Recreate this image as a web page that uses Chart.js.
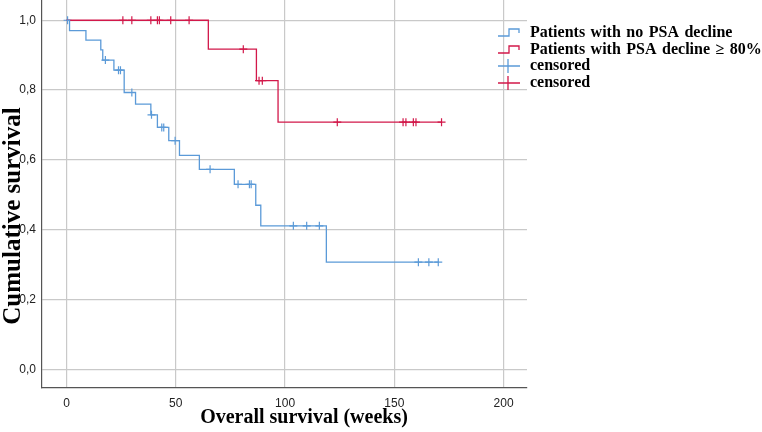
<!DOCTYPE html>
<html>
<head>
<meta charset="utf-8">
<script src="https://cdn.jsdelivr.net/npm/chart.js@4"></script>
<style>
html,body{margin:0;padding:0;background:#fff;}
#wrap{width:762px;height:432px;position:relative;}
</style>
</head>
<body>
<div id="wrap"><canvas id="c" width="762" height="432"></canvas></div>
<script>
// ---- data ----
const xTicks = [0, 50, 100, 150, 200];
const yTicks = [0.0, 0.2, 0.4, 0.6, 0.8, 1.0];

const noDeclineTimes = [0, 1.4, 8.9, 15.7, 16.6, 21.7, 26.4, 31.6, 38.6, 41.6, 46.8, 51.7, 60.8, 76.8, 86.6, 88.9, 118.9, 170.2];
const noDeclineSurv  = [1.0, 0.970, 0.943, 0.915, 0.886, 0.857, 0.793, 0.760, 0.729, 0.693, 0.655, 0.613, 0.573, 0.530, 0.470, 0.411, 0.307, 0.307];
const noDeclineCensTimes = [0.5, 17.8, 23.8, 24.7, 29.9, 38.9, 43.6, 44.5, 49.7, 65.7, 78.5, 83.7, 84.5, 103.8, 109.9, 115.7, 161.0, 165.8, 170.1];
const noDeclineCensSurv  = [1.0, 0.886, 0.857, 0.857, 0.793, 0.729, 0.693, 0.693, 0.655, 0.573, 0.530, 0.530, 0.530, 0.411, 0.411, 0.411, 0.307, 0.307, 0.307];

const declineTimes = [0, 64.9, 86.9, 96.8, 171.6];
const declineSurv  = [1.0, 0.917, 0.827, 0.708, 0.708];
const declineCensTimes = [25.8, 29.9, 38.6, 41.6, 42.5, 47.7, 56.1, 80.9, 88.1, 89.6, 123.9, 154.0, 155.3, 158.7, 159.9, 171.6];
const declineCensSurv  = [1.0, 1.0, 1.0, 1.0, 1.0, 1.0, 1.0, 0.917, 0.827, 0.827, 0.708, 0.708, 0.708, 0.708, 0.708, 0.708];

const legendLabels = ["Patients with no PSA decline", "Patients with PSA decline \u2265 80%", "censored", "censored"];
const xTitle = "Overall survival (weeks)";
const yTitle = "Cumulative survival";

const BLUE = '#5b9ad8';
const RED = '#d2184a';

const pts = (xs, ys) => xs.map((x, i) => ({x: x, y: ys[i]}));

const titlesAndLegend = {
  id: 'titlesAndLegend',
  afterDraw(chart) {
    const ctx = chart.ctx;
    ctx.save();
    ctx.fillStyle = '#000';
    ctx.font = 'bold 20px "Liberation Serif", "Times New Roman", serif';
    ctx.textAlign = 'center';
    ctx.textBaseline = 'middle';
    ctx.fillText(xTitle, 304, 418);
    ctx.save();
    ctx.translate(14, 216);
    ctx.rotate(-Math.PI / 2);
    ctx.font = 'bold 25px "Liberation Serif", "Times New Roman", serif';
    ctx.fillText(yTitle, 0, 0);
    ctx.restore();

    // legend
    const rows = [33, 50, 66, 83];
    const colors = [BLUE, RED, BLUE, RED];
    ctx.font = 'bold 16px "Liberation Serif", "Times New Roman", serif';
    ctx.textAlign = 'left';
    if ('wordSpacing' in ctx) ctx.wordSpacing = '1.5px';
    for (let i = 0; i < 4; i++) {
      const y = rows[i];
      ctx.strokeStyle = colors[i];
      ctx.lineWidth = 1.3;
      ctx.beginPath();
      if (i < 2) {
        ctx.moveTo(498, y + 3);
        ctx.lineTo(509, y + 3);
        ctx.lineTo(509, y - 4);
        ctx.lineTo(519, y - 4);
        ctx.lineTo(519, y);
      } else {
        ctx.moveTo(498, y);
        ctx.lineTo(520, y);
        ctx.moveTo(508, y - 7);
        ctx.lineTo(508, y + 7);
      }
      ctx.stroke();
      ctx.fillStyle = '#000';
      ctx.fillText(legendLabels[i], 530, y);
    }
    ctx.restore();
  }
};

new Chart(document.getElementById('c'), {
  type: 'scatter',
  data: {
    datasets: [
      { data: pts(noDeclineTimes, noDeclineSurv), showLine: true, stepped: 'before', borderColor: BLUE, borderWidth: 1.3, pointRadius: 0, fill: false },
      { data: pts(declineTimes, declineSurv), showLine: true, stepped: 'before', borderColor: RED, borderWidth: 1.3, pointRadius: 0, fill: false },
      { data: pts(noDeclineCensTimes, noDeclineCensSurv), showLine: false, pointStyle: 'cross', pointRadius: 4, borderColor: BLUE, borderWidth: 1.2 },
      { data: pts(declineCensTimes, declineCensSurv), showLine: false, pointStyle: 'cross', pointRadius: 4, borderColor: RED, borderWidth: 1.2 }
    ]
  },
  options: {
    responsive: false,
    animation: false,
    devicePixelRatio: 1,
    layout: { autoPadding: false, padding: { top: 0, right: 235, bottom: 0, left: 0 } },
    plugins: { legend: { display: false }, tooltip: { enabled: false } },
    scales: {
      x: {
        type: 'linear', min: -11.2, max: 210.7,
        afterBuildTicks: s => { s.ticks = xTicks.map(v => ({value: v})); },
        afterFit: s => { s.height = 44; s.paddingLeft = 0; s.paddingRight = 0; },
        grid: { color: '#c9c9c9', lineWidth: 1.2, drawTicks: false },
        border: { display: true, color: '#555', width: 1.2 },
        ticks: { color: '#222', padding: 8, maxRotation: 0, font: { family: '"Liberation Sans", Arial, sans-serif', size: 12 } }
      },
      y: {
        type: 'linear', min: -0.0535, max: 1.058,
        afterBuildTicks: s => { s.ticks = yTicks.map(v => ({value: v})); },
        afterFit: s => { s.width = 42; s.paddingTop = 0; s.paddingBottom = 0; },
        grid: { color: '#c9c9c9', lineWidth: 1.2, drawTicks: false },
        border: { display: true, color: '#555', width: 1.2 },
        ticks: { color: '#222', padding: 6, font: { family: '"Liberation Sans", Arial, sans-serif', size: 12 },
                 callback: v => v.toFixed(1).replace('.', ',') }
      }
    }
  },
  plugins: [titlesAndLegend]
});
</script>
</body>
</html>
